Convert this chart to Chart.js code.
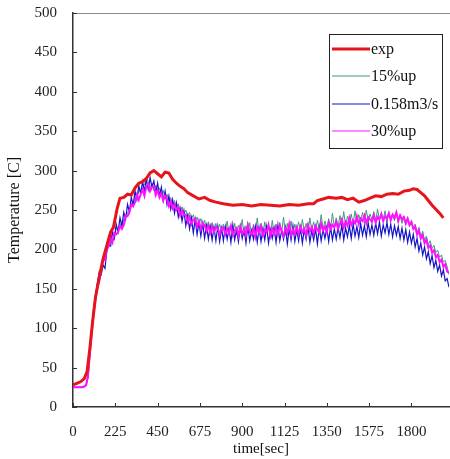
<!DOCTYPE html>
<html>
<head>
<meta charset="utf-8">
<script src="https://cdn.jsdelivr.net/npm/chart.js@4.4.0/dist/chart.umd.min.js"></script>
<style>
  html, body { margin: 0; padding: 0; background: #fff; }
  #wrap { width: 450px; height: 459px; }
</style>
</head>
<body>
<div id="wrap"><canvas id="tempChart"></canvas></div>
<script>
// tick labels
var xTicks = [0, 225, 450, 675, 900, 1125, 1350, 1575, 1800];
var yTicks = [0, 50, 100, 150, 200, 250, 300, 350, 400, 450, 500];

// measured (exp)
var expTime = [0, 20, 40, 60, 75, 90, 105, 120, 140, 160, 180, 200, 215, 235, 250,
  270, 290, 310, 330, 350, 370, 390, 410, 430, 450, 470, 490, 510, 530, 550,
  570, 590, 610, 640, 670, 700, 730, 760, 800, 850, 900, 950, 1000, 1050, 1100,
  1150, 1200, 1250, 1280, 1300, 1330, 1360, 1400, 1430, 1460, 1490, 1520, 1550, 1580, 1610,
  1640, 1670, 1700, 1730, 1760, 1790, 1810, 1830, 1850, 1870, 1890, 1910, 1930, 1950, 1970];
var expTemp = [28, 30, 32, 36, 45, 75, 110, 140, 165, 188, 205, 222, 228, 252, 265,
  266, 270, 269, 278, 284, 286, 290, 297, 300, 296, 292, 298, 297, 289, 284,
  280, 277, 272, 268, 264, 266, 262, 260, 258, 256, 257, 255, 257, 256, 255,
  257, 256, 258, 258, 262, 264, 266, 265, 266, 263, 265, 260, 262, 265, 268,
  267, 270, 271, 270, 274, 275, 277, 276, 272, 268, 262, 256, 251, 246, 240];

// simulation time (sec), one row = 200 sec
var simTime = [
  0, 10, 20, 30, 40, 50, 60, 70, 80, 90, 100, 110, 120, 130, 140, 150, 160, 170, 180, 190,
  200, 210, 220, 230, 240, 250, 260, 270, 280, 290, 300, 310, 320, 330, 340, 350, 360, 370, 380, 390,
  400, 410, 420, 430, 440, 450, 460, 470, 480, 490, 500, 510, 520, 530, 540, 550, 560, 570, 580, 590,
  600, 610, 620, 630, 640, 650, 660, 670, 680, 690, 700, 710, 720, 730, 740, 750, 760, 770, 780, 790,
  800, 810, 820, 830, 840, 850, 860, 870, 880, 890, 900, 910, 920, 930, 940, 950, 960, 970, 980, 990,
  1000, 1010, 1020, 1030, 1040, 1050, 1060, 1070, 1080, 1090, 1100, 1110, 1120, 1130, 1140, 1150, 1160, 1170, 1180, 1190,
  1200, 1210, 1220, 1230, 1240, 1250, 1260, 1270, 1280, 1290, 1300, 1310, 1320, 1330, 1340, 1350, 1360, 1370, 1380, 1390,
  1400, 1410, 1420, 1430, 1440, 1450, 1460, 1470, 1480, 1490, 1500, 1510, 1520, 1530, 1540, 1550, 1560, 1570, 1580, 1590,
  1600, 1610, 1620, 1630, 1640, 1650, 1660, 1670, 1680, 1690, 1700, 1710, 1720, 1730, 1740, 1750, 1760, 1770, 1780, 1790,
  1800, 1810, 1820, 1830, 1840, 1850, 1860, 1870, 1880, 1890, 1900, 1910, 1920, 1930, 1940, 1950, 1960, 1970, 1980, 1990,
  2000];

var up15 = [
  25, 25, 25, 25, 25, 25, 26, 28, 39, 69, 98, 122, 140, 155, 165, 178, 185, 192, 204, 206,
  210, 222, 215, 227, 223, 233, 227, 239, 241, 247, 249, 258, 257, 266, 267, 274, 275, 283, 282, 292,
  286, 278, 284, 275, 281, 272, 278, 268, 275, 264, 270, 260, 266, 256, 262, 252, 258, 248, 254, 245,
  250, 241, 247, 238, 244, 235, 241, 232, 239, 229, 237, 227, 235, 226, 234, 224, 233, 223, 232, 222,
  232, 221, 236, 220, 230, 219, 233, 218, 231, 222, 238, 217, 230, 221, 234, 218, 232, 220, 240, 219,
  233, 218, 235, 221, 231, 217, 237, 220, 232, 219, 234, 222, 241, 218, 233, 221, 236, 219, 232, 224,
  235, 220, 238, 223, 233, 222, 240, 224, 235, 223, 237, 225, 244, 226, 236, 227, 239, 226, 246, 228,
  240, 229, 243, 231, 248, 230, 242, 233, 245, 232, 249, 234, 244, 235, 247, 233, 250, 236, 245, 238,
  248, 236, 251, 237, 246, 238, 249, 235, 247, 239, 245, 236, 248, 234, 244, 233, 242, 231, 240, 229,
  236, 226, 232, 221, 228, 216, 223, 211, 217, 206, 211, 201, 205, 196, 199, 190, 193, 184, 186, 178,
  168];

var flow158 = [
  25, 25, 25, 25, 25, 25, 26, 28, 38, 70, 100, 126, 142, 158, 172, 168, 180, 176, 198, 205,
  204, 222, 214, 232, 222, 240, 230, 247, 238, 257, 248, 266, 256, 274, 263, 281, 270, 286, 274, 289,
  276, 291, 279, 287, 272, 284, 268, 279, 262, 274, 257, 268, 251, 263, 246, 259, 241, 252, 236, 249,
  230, 243, 226, 240, 221, 238, 219, 234, 217, 233, 214, 230, 213, 229, 212, 228, 211, 229, 210, 227,
  211, 229, 213, 226, 209, 231, 212, 225, 210, 228, 214, 226, 208, 230, 211, 224, 213, 229, 209, 227,
  210, 226, 212, 229, 208, 225, 214, 227, 209, 231, 211, 224, 213, 228, 207, 226, 212, 230, 210, 225,
  211, 227, 208, 225, 213, 229, 209, 224, 212, 226, 207, 228, 211, 225, 214, 227, 210, 229, 212, 226,
  213, 228, 215, 231, 212, 227, 216, 230, 214, 232, 217, 229, 215, 233, 218, 230, 216, 234, 219, 231,
  218, 233, 220, 235, 217, 231, 221, 234, 219, 232, 216, 230, 218, 229, 214, 227, 212, 225, 209, 222,
  208, 219, 203, 214, 198, 208, 193, 203, 188, 197, 182, 192, 177, 186, 172, 180, 166, 174, 160, 163,
  152];

var up30 = [
  25, 25, 25, 25, 25, 25, 26, 28, 40, 68, 96, 120, 138, 152, 160, 175, 188, 186, 201, 204,
  215, 209, 221, 219, 222, 230, 226, 231, 243, 242, 247, 257, 255, 260, 269, 263, 270, 276, 268, 280,
  283, 274, 279, 280, 269, 275, 266, 271, 262, 268, 264, 255, 261, 252, 257, 250, 254, 243, 249, 244,
  244, 235, 241, 232, 238, 239, 229, 236, 226, 233, 231, 223, 230, 221, 229, 222, 228, 227, 219, 227,
  228, 219, 226, 221, 230, 218, 224, 227, 217, 229, 220, 225, 218, 231, 222, 219, 227, 216, 228, 221,
  229, 218, 225, 222, 231, 217, 226, 220, 228, 219, 230, 223, 217, 227, 221, 232, 218, 225, 220, 228,
  219, 229, 222, 226, 218, 231, 223, 228, 220, 230, 225, 221, 233, 224, 229, 222, 234, 226, 231, 228,
  235, 226, 232, 238, 228, 235, 230, 240, 231, 237, 233, 242, 232, 239, 236, 243, 233, 241, 238, 235,
  243, 234, 241, 238, 245, 236, 242, 239, 246, 237, 244, 240, 247, 236, 243, 238, 241, 233, 239, 231,
  235, 226, 229, 219, 224, 214, 218, 208, 212, 202, 205, 196, 199, 190, 193, 184, 187, 178, 181, 172,
  170];

function pts(xs, ys) {
    return xs.map(function (t, i) { return { x: t, y: ys[i] }; });
}

var serif = "'Liberation Serif', 'Times New Roman', serif";

//----- axis ticks inside + top line + legend box
var framePlugin = {
    id: 'frame',
    afterDraw: function (chart) {
        var ctx = chart.ctx;
        var a = chart.chartArea;
        var xs = chart.scales.x, ys = chart.scales.y;
        ctx.save();
        // top border
        ctx.strokeStyle = '#8a8a8a';
        ctx.lineWidth = 1;
        ctx.beginPath();
        ctx.moveTo(a.left, a.top + 0.5);
        ctx.lineTo(450, a.top + 0.5);
        ctx.stroke();
        // tick marks pointing in
        ctx.strokeStyle = '#333';
        ctx.beginPath();
        xTicks.forEach(function (v) {
            var px = Math.round(xs.getPixelForValue(v)) + 0.5;
            ctx.moveTo(px, a.bottom);
            ctx.lineTo(px, a.bottom - 4);
        });
        yTicks.forEach(function (v) {
            var py = Math.round(ys.getPixelForValue(v)) + 0.5;
            ctx.moveTo(a.left, py);
            ctx.lineTo(a.left + 4, py);
        });
        ctx.stroke();

        // legend
        var bx = 329.5, by = 34.5, bw = 113, bh = 114;
        ctx.fillStyle = '#fff';
        ctx.fillRect(bx, by, bw, bh);
        ctx.strokeStyle = '#222';
        ctx.lineWidth = 1;
        ctx.strokeRect(bx, by, bw, bh);
        var rows = [49, 76, 104, 131];
        ctx.font = '16px ' + serif;
        ctx.textBaseline = 'middle';
        ctx.textAlign = 'left';
        chart.data.datasets.forEach(function (ds, i) {
            ctx.strokeStyle = ds.borderColor;
            ctx.lineWidth = i === 0 ? 3 : 1.2;
            ctx.beginPath();
            ctx.moveTo(332, rows[i]);
            ctx.lineTo(370, rows[i]);
            ctx.stroke();
            ctx.fillStyle = '#111';
            ctx.fillText(ds.label, 371, rows[i] + 1);
        });
        ctx.restore();
    }
};

var ctx = document.getElementById('tempChart').getContext('2d');
var tempChart = new Chart(ctx, {
    type: 'line',
    data: {
        datasets: [{
            label: 'exp',
            data: pts(expTime, expTemp),
            borderColor: '#e8141c',
            borderWidth: 3,
            order: 0
        }, {
            label: '15%up',
            data: pts(simTime, up15),
            borderColor: '#3f9a78',
            borderWidth: 1,
            order: 3
        }, {
            label: '0.158m3/s',
            data: pts(simTime, flow158),
            borderColor: '#1414c8',
            borderWidth: 1.2,
            order: 2
        }, {
            label: '30%up',
            data: pts(simTime, up30),
            borderColor: '#ff10ff',
            borderWidth: 2,
            order: 1
        }]
    },
    options: {
        responsive: true,
        maintainAspectRatio: false,
        animation: false,
        layout: { padding: { top: 13, right: 1, left: 0, bottom: 0 } },
        elements: {
            point: { radius: 0 },
            line: { tension: 0, borderJoinStyle: 'miter' }
        },
        plugins: {
            legend: { display: false },
            tooltip: { enabled: false }
        },
        scales: {
            x: {
                type: 'linear',
                min: 0,
                max: 2000,
                afterBuildTicks: function (scale) {
                    scale.ticks = xTicks.map(function (v) { return { value: v }; });
                },
                afterFit: function (scale) {
                    scale.height = 52;
                    scale.paddingLeft = 0;
                    scale.paddingRight = 0;
                },
                grid: { display: false, drawTicks: false },
                border: { display: true, color: '#333', width: 1.5 },
                ticks: {
                    padding: 16,
                    color: '#222',
                    maxRotation: 0,
                    autoSkip: false,
                    font: { family: serif, size: 15 },
                    callback: function (v) { return String(v); }
                },
                title: {
                    display: true,
                    text: 'time[sec]',
                    color: '#111',
                    padding: { top: 0, bottom: 1 },
                    font: { family: serif, size: 15 }
                }
            },
            y: {
                min: 0,
                max: 500,
                afterBuildTicks: function (scale) {
                    scale.ticks = yTicks.map(function (v) { return { value: v }; });
                },
                afterFit: function (scale) {
                    scale.width = 73;
                    scale.paddingTop = 0;
                    scale.paddingBottom = 0;
                },
                grid: { display: false, drawTicks: false },
                border: { display: true, color: '#333', width: 1.5 },
                ticks: {
                    padding: 16,
                    color: '#222',
                    font: { family: serif, size: 15 }
                },
                title: {
                    display: true,
                    text: 'Temperature [C]',
                    color: '#111',
                    padding: { top: 5, bottom: 0 },
                    font: { family: serif, size: 16 }
                }
            }
        }
    },
    plugins: [framePlugin]
});
</script>
</body>
</html>
